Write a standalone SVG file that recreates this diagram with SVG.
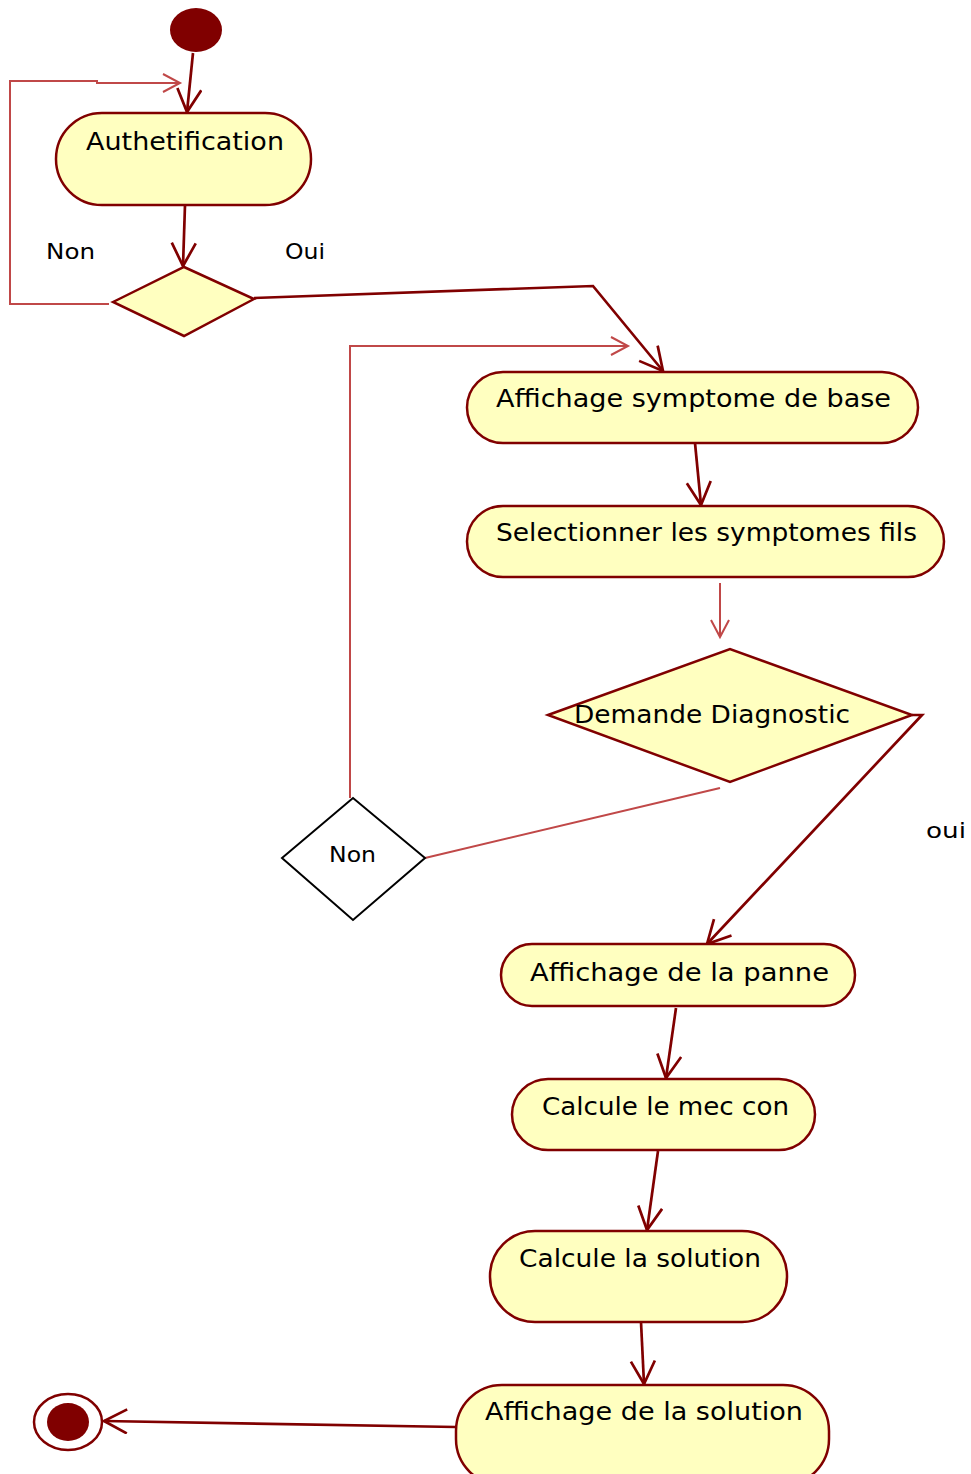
<svg xmlns="http://www.w3.org/2000/svg" width="971" height="1474" viewBox="0 0 971 1474">
  <style>
    .act { fill: #ffffc0; stroke: #800000; stroke-width: 2.5; }
    .dec { fill: #ffffc0; stroke: #800000; stroke-width: 2.5; }
    .plain { fill: #ffffff; stroke: #000000; stroke-width: 2; }
    .lbl { font-family: "DejaVu Sans", "Verdana", sans-serif; font-size: 25px; fill: #000000; }
    .small { font-family: "DejaVu Sans", "Verdana", sans-serif; font-size: 22px; fill: #000000; }
    .flow { fill: none; stroke: #800000; stroke-width: 2.7; }
    .flow2 { fill: none; stroke: #c04848; stroke-width: 2; }
  </style>
  <defs>
    <marker id="arrowDark" markerUnits="userSpaceOnUse" markerWidth="30" markerHeight="30" refX="24" refY="13" orient="auto">
      <path d="M1,1 L24,13 L1,25" fill="none" stroke="#800000" stroke-width="2.7"/>
    </marker>
    <marker id="arrowLight" markerUnits="userSpaceOnUse" markerWidth="24" markerHeight="24" refX="18" refY="10" orient="auto">
      <path d="M1,1 L18,10 L1,19" fill="none" stroke="#c04848" stroke-width="2"/>
    </marker>
  </defs>

  <!-- control flows -->
  <g id="connectors">
    <line class="flow" x1="193" y1="53" x2="187" y2="112" marker-end="url(#arrowDark)"/>
    <line class="flow" x1="185" y1="205" x2="183" y2="266" marker-end="url(#arrowDark)"/>
    <polyline class="flow2" points="109,304 10,304 10,81 97,81 97,83 180,83" marker-end="url(#arrowLight)"/>
    <polyline class="flow" points="254,298 593,286 663,371" marker-end="url(#arrowDark)"/>
    <polyline class="flow2" points="350,798 350,346 628,346" marker-end="url(#arrowLight)"/>
    <line class="flow" x1="695" y1="443" x2="701" y2="505" marker-end="url(#arrowDark)"/>
    <line class="flow2" x1="720" y1="583" x2="720" y2="637" marker-end="url(#arrowLight)"/>
    <line class="flow2" x1="720" y1="788" x2="425" y2="858"/>
    <polyline class="flow" points="912,715 922,715 707,944" marker-end="url(#arrowDark)"/>
    <line class="flow" x1="676" y1="1008" x2="666" y2="1078" marker-end="url(#arrowDark)"/>
    <line class="flow" x1="658" y1="1151" x2="647" y2="1230" marker-end="url(#arrowDark)"/>
    <line class="flow" x1="641" y1="1322" x2="644" y2="1384" marker-end="url(#arrowDark)"/>
    <line class="flow" x1="456" y1="1427" x2="104" y2="1421" marker-end="url(#arrowDark)"/>
    <text class="small" x="46" y="259" textLength="49" lengthAdjust="spacingAndGlyphs">Non</text>
    <text class="small" x="285" y="259" textLength="40" lengthAdjust="spacingAndGlyphs">Oui</text>
    <text class="small" x="926" y="838" textLength="40" lengthAdjust="spacingAndGlyphs">oui</text>
  </g>

  <g id="start">
    <ellipse cx="196" cy="30" rx="26" ry="22" fill="#800000"/>
  </g>

  <g id="authentification">
    <rect class="act" x="56" y="113" width="255" height="92" rx="46" ry="46"/>
    <text class="lbl" x="86" y="150" textLength="198" lengthAdjust="spacingAndGlyphs">Authetification</text>
  </g>

  <g id="decision-auth">
    <polygon class="dec" points="113,302 184,267 254,299 184,336"/>
  </g>

  <g id="affichage-symptome">
    <rect class="act" x="467" y="372" width="451" height="71" rx="36" ry="36"/>
    <text class="lbl" x="496" y="407" textLength="395" lengthAdjust="spacingAndGlyphs">Affichage symptome de base</text>
  </g>

  <g id="selection-symptomes">
    <rect class="act" x="467" y="506" width="477" height="71" rx="36" ry="36"/>
    <text class="lbl" x="496" y="541" textLength="421" lengthAdjust="spacingAndGlyphs">Selectionner les symptomes fils</text>
  </g>

  <g id="demande-diagnostic">
    <polygon class="dec" points="548,715 730,649 912,715 730,782"/>
    <text class="lbl" x="574" y="723" textLength="276" lengthAdjust="spacingAndGlyphs">Demande Diagnostic</text>
  </g>

  <g id="decision-non">
    <polygon class="plain" points="282,858 353,798 425,858 353,920"/>
    <text class="small" x="329" y="862" font-size="23" textLength="47" lengthAdjust="spacingAndGlyphs">Non</text>
  </g>

  <g id="affichage-panne">
    <rect class="act" x="501" y="944" width="354" height="62" rx="31" ry="31"/>
    <text class="lbl" x="530" y="981" textLength="299" lengthAdjust="spacingAndGlyphs">Affichage de la panne</text>
  </g>

  <g id="calcule-mec">
    <rect class="act" x="512" y="1079" width="303" height="71" rx="36" ry="36"/>
    <text class="lbl" x="542" y="1115" textLength="247" lengthAdjust="spacingAndGlyphs">Calcule le mec con</text>
  </g>

  <g id="calcule-solution">
    <rect class="act" x="490" y="1231" width="297" height="91" rx="45" ry="45"/>
    <text class="lbl" x="519" y="1267" textLength="242" lengthAdjust="spacingAndGlyphs">Calcule la solution</text>
  </g>

  <g id="affichage-solution">
    <rect class="act" x="456" y="1385" width="373" height="100" rx="46" ry="46"/>
    <text class="lbl" x="485" y="1420" textLength="318" lengthAdjust="spacingAndGlyphs">Affichage de la solution</text>
  </g>

  <g id="end">
    <ellipse cx="68" cy="1422" rx="34" ry="28" fill="#ffffff" stroke="#800000" stroke-width="2.5"/>
    <ellipse cx="68" cy="1422" rx="21" ry="19" fill="#800000"/>
  </g>
</svg>
